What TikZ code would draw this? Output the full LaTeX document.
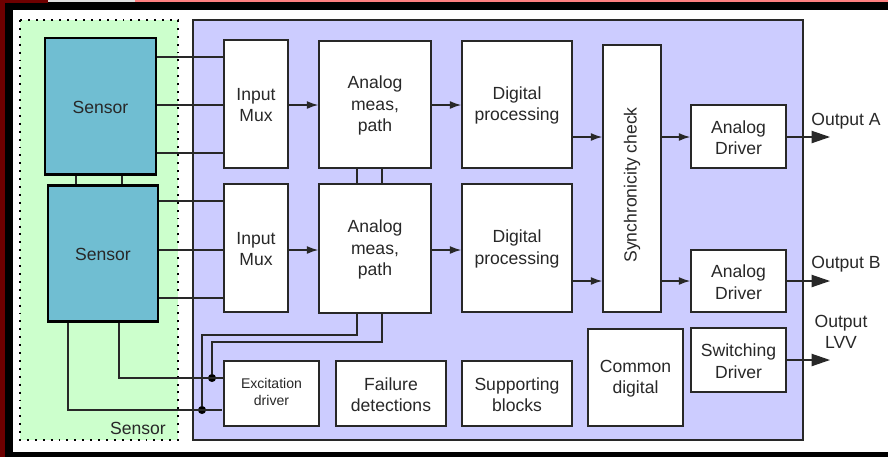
\documentclass[tikz,border=0pt]{standalone}
\usepackage{fontspec}
\setmainfont{Liberation Sans}
\usetikzlibrary{fit,arrows.meta}
\definecolor{chipbg}{RGB}{204,204,255}
\definecolor{sensbg}{RGB}{204,255,204}
\definecolor{sensfill}{RGB}{112,190,210}
\definecolor{framered}{RGB}{110,0,0}
\definecolor{ink}{RGB}{40,40,40}

\begin{document}
\begin{tikzpicture}[x=0.02cm, y=-0.02cm,
  lbl/.style={text=ink, align=center, font=\fontsize{10}{12.3}\selectfont},
  blk/.style={draw=ink, line width=0.85pt, fill=white, inner sep=0pt},
  sens/.style={blk, fill=sensfill, draw=black, line width=1.7pt},
  % box text sits a little below the middle
  cap/.style={label={[lbl, yshift=-0.6pt]center:#1}},
  smallcap/.style={label={[lbl, yshift=0.8pt, font=\fontsize{8}{10}\selectfont]center:#1}},
  wire/.style={draw=ink, line width=0.75pt},
  arr/.style={wire, -{Latex[length=6.5pt,width=4.5pt]}},
  outarr/.style={wire, -{Triangle[length=10.5pt,width=7pt]}},
  jdot/.style={circle, fill=black, inner sep=0pt, minimum size=4.6pt}]
% screen frame
\useasboundingbox (0,0) rectangle (888,457);
\fill[black] (0,0) rectangle (888,457);
\fill[framered] (0,0) rectangle (5,457);
\fill[framered] (0,0) rectangle (48,3);
\fill[black!12] (48,0) rectangle (135,2);
\fill[red!50] (135,0) rectangle (888,2);
\fill[white] (13,10) rectangle (888,452);
% sensor area and chip area
\fill[sensbg] (20,20) rectangle (178,440);
\draw[line width=1.1pt, dash pattern=on 1.1pt off 3.4pt] (20,20) rectangle (178,440);
\draw[fill=chipbg, draw=ink, line width=0.9pt] (193,20) rectangle (803,440);
\node[lbl, anchor=east] (senslbl) at (172,428) {Sensor};

% sensors
\node[sens, fit={(45,38)(156,174)}, cap=Sensor] (sen1) {};
\node[sens, fit={(48,185)(158,321)}, cap=Sensor] (sen2) {};
\draw[wire] (sen1.south -| 76,0) -- (sen2.north -| 76,0);
\draw[wire] (sen1.south -| 122,0) -- (sen2.north -| 122,0);

% channel A
\node[blk, fit={(224,40)(288,168)}, cap={Input\\Mux}] (mux1) {};
\node[blk, fit={(319,41)(431,168)}, cap={Analog\\meas,\\path}] (ana1) {};
\node[blk, fit={(462,41)(572,168)}, cap={Digital\\processing}] (dig1) {};
% channel B
\node[blk, fit={(224,184)(288,312)}, cap={Input\\Mux}] (mux2) {};
\node[blk, fit={(319,184)(431,313)}, cap={Analog\\meas,\\path}] (ana2) {};
\node[blk, fit={(462,184)(572,312)}, cap={Digital\\processing}] (dig2) {};
\draw[wire] (ana1.south -| 357,0) -- (ana2.north -| 357,0);
\draw[wire] (ana1.south -| 382,0) -- (ana2.north -| 382,0);

% check and drivers
\node[blk, fit={(603,45)(661,312)}] (sync) {};
\node[lbl, rotate=90] (synclbl) at ([yshift=-3.7pt]sync.center) {Synchronicity check};
\node[blk, fit={(691,105)(786,168)}, cap={Analog\\Driver}] (drva) {};
\node[blk, fit={(691,250)(786,312)}, cap={Analog\\Driver}] (drvb) {};
\node[blk, fit={(691,328)(786,392)}, cap={Switching\\Driver}] (swdrv) {};
\node[blk, fit={(588,329)(683,426)}, cap={Common\\digital}] (comdig) {};

% bottom row
\node[blk, fit={(224,361)(319,426)}, smallcap={Excitation\\driver}] (exc) {};
\node[blk, fit={(336,361)(446,426)}, cap={Failure\\detections}] (fail) {};
\node[blk, fit={(462,361)(572,426)}, cap={Supporting\\blocks}] (supp) {};

% sensor lines into the muxes
\foreach \y in {57,105,153}
  \draw[wire] (sen1.east |- 0,\y) -- (mux1.west |- 0,\y);
\foreach \y in {201,250,298}
  \draw[wire] (sen2.east |- 0,\y) -- (mux2.west |- 0,\y);

% signal flow
\draw[arr] (mux1.east |- 0,105) -- (ana1.west |- 0,105);
\draw[arr] (ana1.east |- 0,105) -- (dig1.west |- 0,105);
\draw[arr] (dig1.east |- 0,137) -- (sync.west |- 0,137);
\draw[arr] (sync.east |- 0,137) -- (drva.west |- 0,137);
\draw[arr] (mux2.east |- 0,250) -- (ana2.west |- 0,250);
\draw[arr] (ana2.east |- 0,250) -- (dig2.west |- 0,250);
\draw[arr] (dig2.east |- 0,281) -- (sync.west |- 0,281);
\draw[arr] (sync.east |- 0,281) -- (drvb.west |- 0,281);

% outputs
\coordinate (outa) at (830,137);
\coordinate (outb) at (830,281);
\coordinate (outl) at (830,360);
\draw[outarr] (drva.east |- outa) -- (outa);
\draw[outarr] (drvb.east |- outb) -- (outb);
\draw[outarr] (swdrv.east |- outl) -- (outl);
\node[lbl] (outalbl) at (846,121) {Output A};
\node[lbl] (outblbl) at (846,264) {Output B};
\node[lbl] (outllbl) at (841,332) {Output\\LVV};

% excitation wiring
\node[jdot] (j1) at (212,378) {};
\node[jdot] (j2) at (202,410) {};
\draw[wire] (sen2.south -| 119,0) |- (exc.west |- j1);
\draw[wire] (sen2.south -| 68,0) |- (222,410);
\draw[wire] (ana2.south -| 357,0) |- (202,335) -- (j2);
\draw[wire] (ana2.south -| 382,0) |- (212,342) -- (j1);
\end{tikzpicture}
\end{document}
